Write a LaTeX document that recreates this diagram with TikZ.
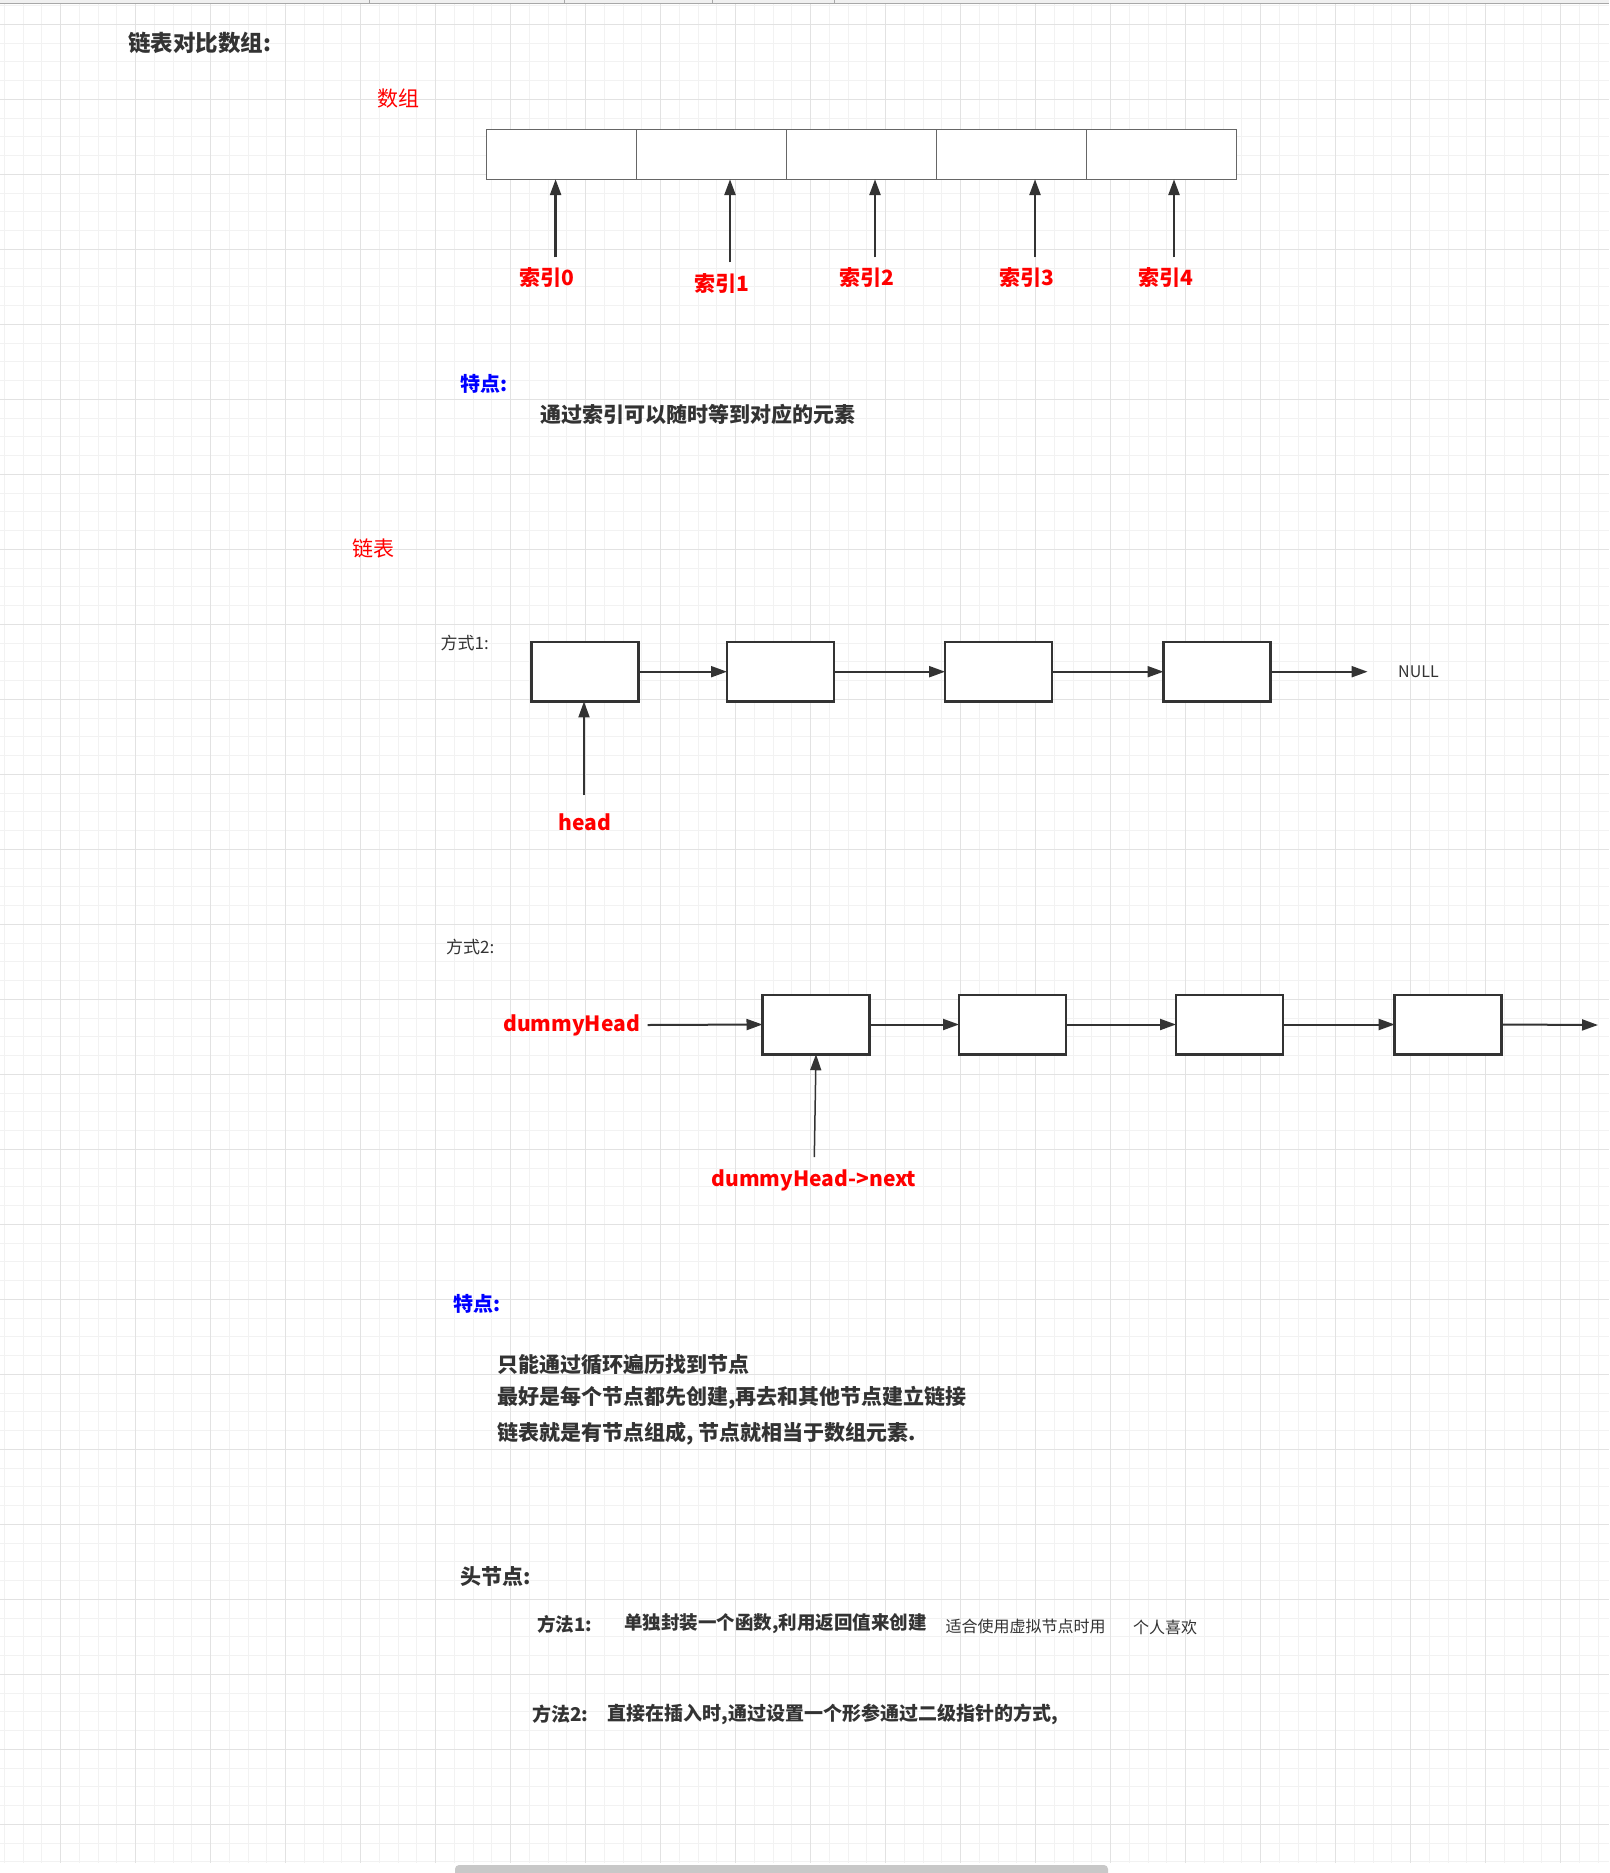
\documentclass[tikz,border=0pt]{standalone}
\usepackage{fontspec}
\setmainfont{Noto Sans CJK SC}
\usetikzlibrary{arrows.meta,positioning}

\definecolor{ink}{HTML}{333333}
\definecolor{cellline}{HTML}{666666}
\definecolor{gridminor}{HTML}{F2F2F2}
\definecolor{gridmajor}{HTML}{E2E2E2}
\definecolor{topbar}{HTML}{F0F0F0}
\definecolor{topline}{HTML}{A8A8A8}
\definecolor{scrollbar}{HTML}{C8C8C8}
\definecolor{labelred}{HTML}{FF0000}
\definecolor{labelblue}{HTML}{0000FF}

\newcommand{\setfs}[1]{\fontsize{#1pt}{#1pt}\selectfont}

\tikzset{
  txt/.style={inner sep=0pt, anchor=west, text=ink},
  redlabel/.style={inner sep=0pt, text=labelred, font=\setfs{21}\bfseries},
  cell/.style={draw=cellline, fill=white, line width=1pt, minimum width=150pt,
    minimum height=50pt, inner sep=0pt, outer sep=0pt},
  listnode/.style={draw=ink, fill=white, line width=2.5pt, minimum width=107pt,
    minimum height=59.5pt, inner sep=0pt, outer sep=0pt},
  ptr/.style={draw=ink, line width=2pt, -{Triangle[width=11pt,length=16pt]}},
}

\begin{document}
\begin{tikzpicture}[x=1pt, y=-1pt]
		% Canvas and grid
		\useasboundingbox (0,0) rectangle (1609,1873);
		\fill[white] (0,0) rectangle (1609,1873);
		\foreach \i in {0,...,85}
			\draw[gridminor, line width=1pt] ({4.25+18.75*\i},4) -- ({4.25+18.75*\i},1863);
		\foreach \j in {0,...,99}
			\draw[gridminor, line width=1pt] (0,{5.55+18.75*\j}) -- (1609,{5.55+18.75*\j});
		\foreach \i in {0,...,21}
			\draw[gridmajor, line width=1pt] ({60.5+75*\i},4) -- ({60.5+75*\i},1863);
		\foreach \j in {0,...,24}
			\draw[gridmajor, line width=1pt] (0,{24.3+75*\j}) -- (1609,{24.3+75*\j});

		% Window strip and scroll bar
		\fill[topbar] (0,0) rectangle (1609,3);
		\draw[topline, line width=1.2pt] (0,3.5) -- (1609,3.5);
		\foreach \x in {369,564,712,834}
			\draw[topline, line width=0.6pt] (\x,0) -- (\x,3);
		\fill[scrollbar, rounded corners=4pt] (455,1865) rectangle (1108,1877);

		% Headings
		\node[txt, font=\setfs{22.5}\bfseries] (title) at (128,43) {链表对比数组:};
		\node[txt, text=labelred, font=\setfs{21}] (arrtitle) at (377,99) {数组};

		% Array cells
		\foreach \k in {0,...,4}
			\node[cell] (cell\k) at ({561.7+150*\k},154.2) {};

		% Index labels and arrows
		\node[redlabel] (idx0) at (547,278) {索引0};
		\node[redlabel] (idx1) at (721.5,284) {索引1};
		\node[redlabel] (idx2) at (867,278) {索引2};
		\node[redlabel] (idx3) at (1027,278) {索引3};
		\node[redlabel] (idx4) at (1166,278) {索引4};
		\coordinate (t0) at (555.6,257.3);
		\coordinate (t1) at (730,262.3);
		\coordinate (t2) at (875,257.3);
		\coordinate (t3) at (1035,257.3);
		\coordinate (t4) at (1174,257.3);
		\foreach \k in {0,...,4}
			\draw[ptr, line width=2.5pt] (t\k) -- (t\k |- cell\k.south);

		% Array features
		\node[txt, text=labelblue, font=\setfs{20}\bfseries] (feat1) at (460.7,384) {特点:};
		\node[txt, font=\setfs{21}\bfseries] (feat1text) at (540.7,414) {通过索引可以随时等到对应的元素};

		% Linked list, style 1
		\node[txt, text=labelred, font=\setfs{21}] (listtitle) at (352,548) {链表};
		\node[txt, font=\setfs{17}] (way1) at (440.5,643) {方式1:};
		\node[listnode] (n1) at (585,671.7) {};
		\node[listnode] (n2) at (780.5,671.7) {};
		\node[listnode] (n3) at (998.6,671.7) {};
		\node[listnode] (n4) at (1217,671.7) {};
		\node[txt, font=\setfs{16}] (null) at (1398,671.7) {NULL};
		\coordinate (nullend) at (1367.6,671.7);
		\draw[ptr] (n1.east) -- (n2.west);
		\draw[ptr] (n2.east) -- (n3.west);
		\draw[ptr] (n3.east) -- (n4.west);
		\draw[ptr] (n4.east) -- (nullend);
		\node[redlabel] (head) at (585,822) {head};
		\coordinate (headptr) at (584,795);
		\draw[ptr] (headptr) -- (headptr |- n1.south);

		% Linked list, style 2
		\node[txt, font=\setfs{17}] (way2) at (446,947) {方式2:};
		\node[redlabel, anchor=west] (dummy) at (503,1025) {dummyHead};
		\node[listnode] (m1) at (816,1024.5) {};
		\node[listnode] (m2) at (1012.5,1024.5) {};
		\node[listnode] (m3) at (1229.5,1024.5) {};
		\node[listnode] (m4) at (1448.2,1024.5) {};
		\coordinate (dummyptr) at (647.5,1025);
		\coordinate (m4end) at (1598,1025);
		\draw[ptr] (dummyptr) -- (m1.west);
		\draw[ptr] (m1.east) -- (m2.west);
		\draw[ptr] (m2.east) -- (m3.west);
		\draw[ptr] (m3.east) -- (m4.west);
		\draw[ptr] (m4.east) -- (m4end);
		\node[redlabel] (dummynext) at (814,1180) {dummyHead->next};
		\coordinate (nextptr) at (814.3,1157);
		\draw[ptr, line width=1.5pt] (nextptr) -- (m1.south);

		% List features
		\node[txt, text=labelblue, font=\setfs{20}\bfseries] (feat2) at (453.7,1304) {特点:};
		\node[txt, font=\setfs{21}\bfseries] (featline1) at (497,1365) {只能通过循环遍历找到节点};
		\node[txt, font=\setfs{21}\bfseries] (featline2) at (497,1398) {最好是每个节点都先创建,再去和其他节点建立链接};
		\node[txt, font=\setfs{21}\bfseries] (featline3) at (497,1434) {链表就是有节点组成, 节点就相当于数组元素.};

		% Head node notes
		\node[txt, font=\setfs{21}\bfseries] (headnote) at (460,1576) {头节点:};
		\node[txt, font=\setfs{18.5}\bfseries] (method1) at (537,1624) {方法1:};
		\node[txt, font=\setfs{18.5}\bfseries] (method1text) at (624,1624) {单独封装一个函数,利用返回值来创建};
		\node[txt, font=\setfs{16}] (method1note) at (945.5,1626) {适合使用虚拟节点时用};
		\node[txt, font=\setfs{16}] (method1like) at (1133,1627) {个人喜欢};
		\node[txt, font=\setfs{19}\bfseries] (method2) at (532,1714) {方法2:};
		\node[txt, font=\setfs{19}\bfseries] (method2text) at (607.7,1714) {直接在插入时,通过设置一个形参通过二级指针的方式,};
	\end{tikzpicture}
\end{document}
